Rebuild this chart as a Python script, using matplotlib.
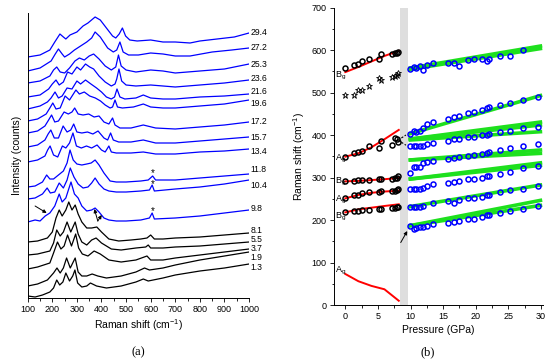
import matplotlib
matplotlib.use('Agg')
import matplotlib.pyplot as plt
from matplotlib.ticker import MultipleLocator

plt.rcParams['font.family'] = ['Liberation Sans', 'DejaVu Sans']
plt.rcParams['mathtext.default'] = 'regular'

# ---------------- panel (a): Raman spectra (arbitrary offset intensity) ----------------
x_294 = [100,150,190,210,231,245,255,272,300,325,345,374,395,420,445,458,472,485,498,515,545,600,650,700,760,800,870,940,1000]
y_294 = [241,243,248,256,264,261,259,263,266,272,275,281,278,270,262,260,264,270,262,258,257,258,256,256,255,257,259,261,265]
x_272 = [100,150,195,212,225,240,250,270,290,315,340,360,374,395,425,448,462,475,488,510,550,600,650,700,760,850,930,1000]
y_272 = [227,230,237,244,249,244,241,244,248,252,256,260,266,261,250,246,248,256,246,243,243,245,244,242,242,246,248,250]
x_253 = [100,150,190,205,218,232,250,270,292,310,330,350,368,390,415,440,458,469,480,500,540,600,650,700,800,900,1000]
y_253 = [215,217,222,228,231,226,225,230,237,240,238,242,244,239,232,228,231,243,232,228,226,228,227,225,227,229,234]
x_236 = [100,150,185,200,215,228,245,262,280,300,315,335,352,368,390,415,440,455,462,471,482,500,540,600,650,700,800,900,1000]
y_236 = [201,203,209,214,218,213,216,226,224,231,228,234,231,229,222,216,212,214,219,229,217,213,212,213,212,211,213,215,218]
x_216 = [100,150,180,195,211,225,240,260,280,300,315,335,357,380,400,420,440,453,463,475,495,540,570,600,650,700,800,900,1000]
y_216 = [189,192,196,200,206,200,202,210,209,217,214,218,214,210,206,201,199,201,209,201,199,200,203,200,199,199,201,202,204]
x_196 = [100,140,175,190,202,215,232,252,270,296,310,330,352,375,396,415,435,445,455,465,485,530,570,600,650,700,800,900,1000]
y_196 = [177,179,184,190,195,189,190,202,198,208,204,206,202,200,197,193,190,191,198,191,190,191,194,191,190,190,192,194,198]
x_172 = [100,140,170,185,197,210,225,248,265,280,291,305,325,348,370,390,410,430,445,455,475,520,570,620,700,800,900,1000]
y_172 = [165,167,172,178,183,176,177,186,184,186,190,184,183,184,181,182,176,174,180,173,170,170,173,170,169,171,173,176]
x_157 = [100,140,170,183,194,208,225,244,260,275,287,300,320,343,365,386,410,425,437,448,470,520,570,620,700,800,900,1000]
y_157 = [151,153,158,164,168,160,160,172,166,168,174,166,165,166,164,167,160,158,165,158,156,156,158,155,155,157,159,161]
x_134 = [100,140,170,181,191,205,222,241,255,270,284,298,318,339,360,382,400,415,430,440,460,520,570,620,700,800,900,1000]
y_134 = [136,138,142,148,152,143,141,152,150,155,165,152,150,152,150,153,148,146,152,146,145,145,146,144,144,146,147,149]
x_118 = [100,130,160,177,190,205,225,245,260,272,285,300,320,340,358,374,390,410,435,460,500,560,590,608,620,700,800,900,1000]
y_118 = [111,112,116,123,119,119,123,127,135,148,138,134,133,134,135,138,133,125,117,116,116,117,118,122,118,118,120,122,124]
x_104 = [100,130,160,179,192,210,228,245,260,273,288,305,325,345,360,374,390,410,430,460,500,560,595,606,615,700,800,900,1000]
y_104 = [99,100,104,110,105,106,115,110,118,130,121,114,110,111,115,120,114,109,107,106,106,107,108,113,107,109,111,114,118]
x_98 = [100,130,150,171,190,210,228,240,255,268,276,290,305,320,340,360,374,390,410,430,460,500,560,595,606,615,700,800,900,1000]
y_98 = [76,78,77,82,85,92,104,96,100,110,116,104,100,92,87,88,90,86,80,78,77,77,78,80,85,79,80,82,85,88]
x_81 = [100,140,180,200,215,228,240,255,267,280,293,305,320,340,360,381,400,430,470,520,560,585,600,615,650,700,800,900,1000]
y_81 = [56,57,60,66,80,88,82,88,96,88,93,84,76,70,70,71,66,59,57,58,59,60,63,59,59,60,61,63,65]
x_55 = [100,140,190,205,218,232,245,260,275,293,305,320,340,360,378,400,440,480,540,580,590,600,650,700,800,900,1000]
y_55 = [43,44,47,55,68,62,66,76,66,76,64,56,53,58,60,55,49,48,50,51,53,50,50,51,52,54,56]
x_37 = [100,140,190,205,221,235,248,262,278,295,307,322,345,370,395,430,480,540,585,600,650,700,800,900,1000]
y_37 = [29,31,35,45,56,49,52,63,52,64,50,44,42,47,44,38,36,38,42,38,38,40,43,46,49]
x_19 = [100,140,180,205,219,232,245,258,273,293,305,320,340,362,385,420,480,540,575,595,650,700,800,900,1000]
y_19 = [12,14,18,25,30,25,30,40,30,40,26,22,22,24,22,20,22,26,30,28,30,33,38,42,46]
x_13 = [100,130,160,190,205,218,230,243,255,270,283,292,303,320,340,355,380,420,480,540,570,590,650,700,800,900,1000]
y_13 = [2,1,3,6,10,18,13,16,25,17,22,28,15,11,12,15,12,10,12,16,19,17,20,23,27,30,34]

blue_spectra = [(x_294, y_294), (x_272, y_272), (x_253, y_253), (x_236, y_236), (x_216, y_216),
                (x_196, y_196), (x_172, y_172), (x_157, y_157), (x_134, y_134), (x_118, y_118),
                (x_104, y_104), (x_98, y_98)]
black_spectra = [(x_81, y_81), (x_55, y_55), (x_37, y_37), (x_19, y_19), (x_13, y_13)]

pressure_labels = ['29.4', '27.2', '25.3', '23.6', '21.6', '19.6', '17.2', '15.7', '13.4',
                   '11.8', '10.4', '9.8', '8.1', '5.5', '3.7', '1.9', '1.3']
label_levels = [265, 250, 233, 219, 206, 194, 176, 161, 147, 129, 113, 90, 68, 58.5, 49.5, 40.5, 31]
star_levels = [125, 114, 87]

# ---------------- panel (b): pressure dependence ----------------
P_I = [0, 1.3, 1.9, 2.5, 3.7, 5.1, 5.5, 7.1, 7.6, 7.9, 8.1]
Bg_top = [558, 565, 566, 575, 578, 579, 590, 590, 594, 594, 596]
stars_I = [495, 495, 505, 507, 516, 533, 530, 537, 538, 542, 547]
Ag_high = [349, 358, 361, 362, 373, 370, 386, 376, 394, 390, 384]
Bg_mid = [292, 292, 293, 294, 294, 296, 296, 297, 299, 300, 303]
Ag_mid = [252, 258, 260, 263, 265, 265, 269, 269, 269, 270, 272]
Bg_low = [219, 221, 221, 223, 223, 225, 227, 229, 229, 230, 230]

red_P = [0, 2, 4, 6, 8.2]
red_Bg_top = [548, 560, 573, 586, 598]
red_Ag_high = [349, 357, 371, 390, 412]
red_Bg_mid = [291, 292, 294, 296, 299]
red_Ag_mid = [251, 259, 264, 267, 269]
red_Bg_low = [218, 225, 229, 233, 237]
red_Ag_soft = [73, 56, 45, 37, 10]

P_II = [9.9, 10.5, 10.9, 11.4, 11.9, 12.6, 13.5, 15.8, 16.7, 17.4, 18.8, 19.7, 21.0, 21.7, 22.1, 23.7, 25.3, 27.2, 29.5]
M1 = [555, 559, 557, 562, 554, 565, 570, 570, 569, 563, 576, 578, 580, 573, 579, 587, 587, 600, None]
M2 = [402, 409, 408, 409, 417, 425, 430, 437, 443, 445, 452, 455, 459, 463, 465, 471, 476, 482, 489]
M3 = [373, 373, 374, 374, 374, 379, 382, 386, 390, 390, 395, 396, 399, 401, 402, 408, 410, 416, 419]
M4 = [311, 325, 325, 324, 333, 336, 339, 343, 347, 348, 351, 352, 355, 357, 359, 364, 369, 373, 378]
M5 = [273, 273, 273, 274, 276, 280, 284, 287, 290, 291, 296, 296, 300, 303, 304, 309, 314, 322, 327]
M6 = [230, 230, 230, 231, 232, None, 241, 244, 241, 248, 252, 252, 253, 260, 259, 267, 271, 274, 280]
M7 = [186, 179, 182, 184, 184, 187, 191, 194, 196, 198, 202, 202, 206, 211, 212, 217, 222, 227, 233]

calc_P = [9.7, 30.2]
calc_start = [557, 554, 402, 390, 390, 388, 341, 341, 296, 296, 231, 186, 186]
calc_end = [610, 604, 494, 431, 424, 408, 365, 357, 335, 329, 283, 247, 235]

mode_labels = ['B$_g$', 'A$_g$', 'B$_g$', 'A$_g$', 'B$_g$', 'A$_g$']
mode_label_y = [539, 345, 290, 249, 208, 82]

# ---------------- figure ----------------
fig = plt.figure(figsize=(5.5, 3.61), dpi=100)
TICK = 6.5
LAB = 7.5

axL = fig.add_axes([0.0504, 0.1745, 0.4024, 0.7895])
for xs, ys in blue_spectra:
    axL.plot(xs, ys, color='#0000ff', lw=0.9)
for xs, ys in black_spectra:
    axL.plot(xs, ys, color='black', lw=0.9)
axL.set_xlim(100, 1000)
axL.set_ylim(0, 285)
for s in ['top', 'right']:
    axL.spines[s].set_visible(False)
axL.set_yticks([])
axL.xaxis.set_major_locator(MultipleLocator(100))
axL.xaxis.set_minor_locator(MultipleLocator(50))
axL.tick_params(axis='x', which='major', labelsize=TICK, length=3, width=0.6, pad=2)
axL.tick_params(axis='x', which='minor', length=1.8, width=0.6)
for sp in axL.spines.values():
    sp.set_linewidth(0.7)
axL.set_xlabel('Raman shift (cm$^{-1}$)', fontsize=LAB, labelpad=2)
axL.set_ylabel('Intensity (counts)', fontsize=LAB, labelpad=4)
for lab, lv in zip(pressure_labels, label_levels):
    axL.text(1007, lv, lab, fontsize=6.2, va='center', ha='left', clip_on=False)
for sl in star_levels:
    axL.text(608, sl, '*', fontsize=7, ha='center', va='center')
akw = dict(arrowstyle='-|>', lw=0.7, color='black', mutation_scale=5, shrinkA=0, shrinkB=0)
axL.annotate('', xy=(177, 85), xytext=(130, 92), arrowprops=akw)
axL.annotate('', xy=(371, 89), xytext=(385, 77), arrowprops=akw)
axL.annotate('', xy=(401, 83), xytext=(385, 77), arrowprops=akw)

axR = fig.add_axes([0.6065, 0.1551, 0.3805, 0.8241])
axR.axvspan(8.4, 9.6, color='#dedede', lw=0, zorder=0)
for s0, s1 in zip(calc_start, calc_end):
    axR.plot(calc_P, [s0, s1], color='#1ee01e', lw=2.6, solid_capstyle='butt', zorder=2)
for red in [red_Bg_top, red_Ag_high, red_Bg_mid, red_Ag_mid, red_Bg_low, red_Ag_soft]:
    axR.plot(red_P, red, color='#ff0000', lw=1.4, zorder=2)
ckw = dict(ls='none', marker='o', ms=3.6, mfc='none', mew=1.1, zorder=3)
for ser in [Bg_top, Ag_high, Bg_mid, Ag_mid, Bg_low]:
    axR.plot(P_I, ser, mec='black', **ckw)
axR.plot(P_I, stars_I, ls='none', marker='*', ms=5, mfc='none', mec='black', mew=0.6, zorder=3)
for ser in [M1, M2, M3, M4, M5, M6, M7]:
    pp = [p for p, v in zip(P_II, ser) if v is not None]
    vv = [v for v in ser if v is not None]
    axR.plot(pp, vv, mec='#0000ff', **ckw)
axR.plot([8.6, 9.3], [393, 400], color='black', lw=0.8, ls=(0, (2, 1.5)))
axR.plot([8.6, 9.3], [383, 376], color='black', lw=0.8, ls=(0, (2, 1.5)))
axR.annotate('', xy=(9.5, 174), xytext=(8.5, 147), arrowprops=akw)
for lab, ly in zip(mode_labels, mode_label_y):
    axR.text(-1.6, ly, lab, fontsize=TICK, ha='left', va='center')
axR.set_xlim(-1.8, 30.3)
axR.set_ylim(0, 700)
for s in ['top', 'right']:
    axR.spines[s].set_visible(False)
for sp in axR.spines.values():
    sp.set_linewidth(0.7)
axR.xaxis.set_major_locator(MultipleLocator(5))
axR.xaxis.set_minor_locator(MultipleLocator(2.5))
axR.yaxis.set_major_locator(MultipleLocator(100))
axR.yaxis.set_minor_locator(MultipleLocator(50))
axR.tick_params(which='major', labelsize=TICK, length=3, width=0.6, pad=2)
axR.tick_params(which='minor', length=1.8, width=0.6)
axR.set_xlabel('Pressure (GPa)', fontsize=LAB, labelpad=3)
axR.set_ylabel('Raman shift (cm$^{-1}$)', fontsize=LAB, labelpad=3)

fig.text(0.251, 0.025, '(a)', fontsize=9, family='Liberation Serif', ha='center', va='center')
fig.text(0.778, 0.025, '(b)', fontsize=9, family='Liberation Serif', ha='center', va='center')

fig.savefig('out.png', dpi=100)
